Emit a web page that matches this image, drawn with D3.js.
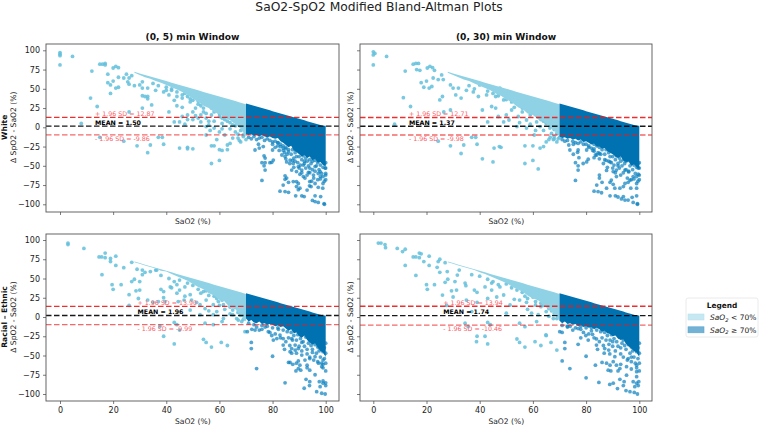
<!DOCTYPE html>
<html><head><meta charset="utf-8">
<script src="https://cdn.jsdelivr.net/npm/d3@7/dist/d3.min.js"></script>
<style>html,body{margin:0;padding:0;background:#fff}svg{display:block}text{font-family:"DejaVu Sans",sans-serif}</style>
</head><body><svg id="c" width="760" height="426"></svg>
<script>
const chartTitle="SaO2-SpO2 Modified Bland-Altman Plots";
const windows=["(0, 5) min Window","(0, 30) min Window"];
const rowLabels=["White","Racial – Ethnic"];
const xTicks=[0,20,40,60,80,100];
const yTicks=[-100,-75,-50,-25,0,25,50,75,100];

const stats=[
 {mean:1.50,up:12.87,lo:-9.86,labelX:13.2},
 {mean:1.37,up:12.71,lo:-9.98,labelX:13.4},
 {mean:1.96,up:13.90,lo:-9.99,labelX:29.2},
 {mean:1.74,up:13.94,lo:-10.46,labelX:26.3}];

const lightX=[28,30,32,34,36,38,40,42,44,46,48,50,52,54,56,58,60,62,64,66,68,70];
const lightTop=[72,70,68,66,64,62,60,58,56,54,52,50,48,46,44,42,40,38,36,34,32,30];
const lightLow1=[71,68,65,63,60,58,55,52,49,46,42,37,33,28,25,20,17,12,9,4,-2,-12];
const lightLow2=[71,68,65,62,60,57,54,51,48,44,41,36,33,27,24,18,16,10,8,2,-4,-12];
const lightLow3=[71,69,67,65,63,60,59,56,53,50,47,43,39,36,31,28,22,20,12,10,2,-6];
const lightLow4=[71,69,67,65,63,61,58,56,53,50,47,44,40,36,33,28,24,22,15,10,4,-5];

const darkX=[70,71,72,73,74,75,76,77,78,79,80,81,82,83,84,85,86,87,88,89,90,91,92,93,94,95,96,97,98,99,100];
const darkTop=[31,30,29,28,27,26,25,24,23,22,21,20,19,18,17,16,15,14,13,12,11,10,9,8,7,6,5,4,3,2,2];
const darkLow1=[-9,-10,-9,-11,-10,-12,-10,-12,-13,-12,-14,-15,-14,-18,-20,-23,-26,-24,-30,-32,-35,-38,-36,-40,-38,-43,-41,-46,-45,-49,-51];
const darkLow2=[-12,-14,-13,-15,-14,-16,-15,-17,-16,-19,-18,-20,-22,-21,-25,-25,-28,-27,-31,-33,-35,-38,-40,-38,-43,-45,-44,-50,-48,-52,-54];
const darkLow3=[-2,-6,-4,-7,-8,-6,-9,-8,-10,-9,-10,-12,-11,-13,-12,-15,-18,-16,-21,-20,-25,-27,-24,-30,-33,-36,-34,-40,-44,-46,-52];
const darkLow4=[-5,-8,-6,-9,-8,-10,-9,-12,-10,-13,-12,-14,-13,-16,-14,-16,-19,-18,-21,-22,-25,-24,-28,-30,-29,-35,-38,-41,-44,-46,-52];

const lightPts1=[[0,97],[0,95],[0,93],[0,81],[4.7,92],[11.5,38],[12,73],[14,27],[15,82],[16,82],[17,83],[17,81],[18,69],[21,79],[20,77],[22,77.5],[20,60],[18,58],[19,55],[19,44],[22,52],[21,51],[22,65],[24,64],[26,64],[25,69],[27,67],[25.5,59],[26,56],[28,54],[30,55],[31,59],[31,51],[33,51],[31,41],[32,40],[33,40],[33,37],[34.5,29],[31,25],[26,20],[41,20],[36,48],[39,46],[41,42],[43,35],[44,28],[46,26],[40,48],[42,48],[44,40],[46,42],[48,40],[49,33],[50,20],[51,25],[54,25],[53,16],[48,16],[46,14],[45,7],[43,7],[47,4],[50,10],[53,7],[55,12],[57,16],[56,3],[58,-1],[55,1],[60,14],[61,5],[63,18],[64,14],[65,3],[60,-6],[55,-10],[56.5,-4],[62,-10],[66,-6],[59,-16],[65,-14],[70,-16],[68,-19],[55,40],[58,31],[52,30],[8,5],[15,-13],[24,-18],[29,-24],[34,-23],[33,-33],[37,-13],[38.5,-13],[39,-22],[45,-27],[48,-26],[48,-28],[50,-28],[57,-24],[58,-24],[57,-47],[60,-43],[60,-29],[61,-30],[63,-23],[63,-29],[64,-21],[67,-14],[69,-12],[67.5,-17]];
const lightMore1=[[40,52],[42,50],[44,46],[46,38],[47,44],[49,37],[50,35],[52,34],[53,28],[54,20],[55,18],[57,25],[58,20],[59,24],[60,18],[61,12],[62,10],[63,8],[64,6],[65,10],[66,2],[67,6],[68,-4],[58,8],[56,8],[52,12],[64,-2],[61,-2],[48,10],[51,15],[35,57],[37,54],[69,-10],[67,-9]];
const lightPts2=[[0,98],[0.6,96],[0,94],[0,81],[5,92],[11.3,38.5],[12,73],[14,27],[15,82],[16,83],[17,83],[16.3,75],[17.5,74],[18,58],[20,60],[19,52],[22,53],[21,51],[20.3,77],[21.3,79],[22.3,77.5],[23,74],[22.5,64],[24.4,62],[25.7,68],[26.3,62],[25,35.5],[26,40],[29,55],[30,51],[31,42],[33,38],[26.5,20],[29,22.5],[32,51],[35,48],[37.6,46],[41,22.5],[44.5,27],[46,25],[42.6,42],[39.5,40],[46,40],[49,35.5],[47.6,51],[51,40],[54,31],[52,22.5],[56,20],[54.5,14],[57.6,9.5],[51,9.5],[49,7],[47,14],[43,7],[57.6,-1],[54,1],[61,18],[61.4,7],[65,14],[62.7,1],[66.4,-1],[8,4],[24.4,-18],[29,-24],[33,-34],[34,-23],[37,-13],[38.5,-13],[39,-22],[41,-41],[45,-45],[45.4,-27],[47.4,-25],[48,-26],[57,-24],[57,-47],[60,-43],[60,-24],[62,-54],[60.5,-10],[62.7,-27],[64,-25],[65,-19],[67.7,-16],[69,-19],[68,-12],[69.5,-15],[66.5,-13]];
const lightMore2=[[36,54],[38,50],[40,55],[43,47],[45,44],[47,41],[50,36],[52,33],[53,26],[55,28],[56,25],[58,22],[59,16],[60,20],[62,14],[63,10],[64,8],[65,5],[66,8],[67,2],[68,-3],[59,4],[55,6],[50,16],[64,-4],[61,-4],[67,-8],[69,-8],[68,-15],[70,-13],[66,-16]];
const lightPts3=[[3,96],[3,94],[9,89],[14.7,78],[15.7,78],[17,83],[17,77],[19,76],[19,72],[21,79],[21,67],[15.8,55],[19.6,42],[20,36],[23,42],[24,64],[27,71],[27,46],[28,49],[26,29],[26,15],[28.6,34],[30,35],[30,46],[29.5,24],[29,62],[31,55],[32,58],[31,61],[34,59],[36,61],[33,22],[35,19],[38,36],[39,33],[39,25],[37,20],[39.5,20],[36.4,61],[41.5,39],[42,38],[44,42],[45,35],[44,31],[47,39],[49,29],[47,27],[44.5,20],[46.7,22],[49.5,22],[51.4,19],[52.7,16],[49,9],[54,33],[55,22],[54.6,11],[57.7,16],[59,7],[61.5,16],[59.6,20],[52.7,3],[57.7,3],[61,-6],[57.7,-10],[54.6,-8],[61.5,-2],[65,3],[66.5,-2],[68.4,-6],[43,-7],[44,-10],[37.6,-12],[45,-17],[39,-25],[43,-35],[54,-29],[55,-33],[57,-39],[60.7,-33],[63,-37],[67.1,-4],[69.6,-19]];
const lightMore3=[[38,54],[41,50],[43,46],[45,48],[48,44],[50,41],[52,36],[53,31],[55,34],[56,28],[58,27],[59,24],[60,15],[61,22],[62,10],[63,20],[64,13],[65,9],[66,13],[67,6],[68,2],[69,-3],[64,4],[56,8]];
const lightPts4=[[1.9,96],[2.9,96],[4.4,94],[4.6,90],[9,89],[11,85],[12,88],[12,67],[15,78],[16,78],[17.3,77],[17.3,83],[18,82],[21,79],[19,72],[21,67],[16,54],[20,42],[20.3,36],[23,42],[24,64.5],[25,75],[24.4,72],[27,70.5],[25,58],[27.8,59],[28,49],[27,45],[26,28.5],[27.6,15],[29.4,34],[30,26],[31.3,35],[30.7,46],[31.6,54.5],[32.3,61],[34.5,44],[34.8,40.7],[35,22],[38,35],[39,32],[39,19],[37,7],[34.5,-8],[35.7,-12.5],[39,-25],[38.8,-32],[42,-25],[43,-7],[43,-35],[44,-10],[42,39],[44.5,44],[44.5,35],[47.6,39],[49,28.6],[46.4,26],[43,24],[51.4,15.6],[53,23],[55,22],[50,5],[59,32],[57.6,19],[61,15.6],[63,13.4],[65,7],[59.5,5],[61.4,-6],[55,-8],[57,-12.5],[54,-28.6],[55,-33],[57,-39],[60.8,-32],[63,-37],[65,-24],[66.8,-33],[69,-43],[67.7,-2],[64.9,-23.4]];
const lightMore4=[[37,55],[40,53],[43,49],[45,46],[47,42],[50,43],[52,38],[54,35],[56,32],[57,27],[58,24],[60,26],[61,20],[62,24],[63,18],[64,15],[65,18],[66,11],[67,8],[68,4],[69,-2],[62,3],[66,1],[58,10]];

const darkPts1=[[73.4,-29.5],[74.7,-22],[75,-27],[76.5,-25],[80,-29.5],[76.8,-37],[77.2,-40],[76,-46],[77.2,-46],[76.8,-50],[79,-46],[80.3,-42.5],[79.7,-45.5],[77.2,-55.5],[76,-69],[84.7,-63],[85.3,-66],[84.7,-67.5],[86,-71.5],[84,-75],[82.8,-83],[84.7,-83.5],[86,-84.5],[87.8,-70.5],[89,-70.5],[89.7,-73],[89,-77],[90.3,-79],[89.7,-81],[88.7,-89],[91,-89],[91.9,-90],[93,-81.5],[94,-70.5],[94.7,-70],[93.9,-76],[94.5,-77],[87.2,-55.5],[89,-57.5],[91,-55.5],[90.3,-61],[91.6,-64],[92.2,-66],[93.5,-58.5],[95.4,-62],[97.2,-60],[98,-64],[99.8,-53],[97.9,-57.5],[99,-73],[97.2,-78],[98.9,-79],[96,-89],[98.1,-90],[95,-95],[96,-96.5],[97.2,-97.5],[99.4,-99],[99.5,-100],[96,-73],[84.7,-38],[86.6,-42.5],[87.8,-47],[85.3,-45],[89.7,-51],[91.6,-49],[94,-53],[96,-51],[82,-20],[84,-27],[86,-32],[88,-40],[92,-44],[100,-60]];
const darkMore1=[[71,-13],[72,-15],[73,-12],[74,-16],[75,-14],[76,-13],[77,-17],[78,-15],[79,-17],[80,-19],[81,-18],[82,-24],[83,-25],[84,-30],[85,-28]];
const darkCloudTop=[[80,-22],[81,-26],[82,-20],[82.5,-30],[83,-22],[83.5,-36],[84,-24],[84.5,-33],[85,-41],[85,-26],[85.5,-35],[86,-29],[86.5,-47],[87,-35],[87.5,-43],[87.5,-29],[88,-52],[88.5,-44],[88.5,-33],[89,-38],[89.5,-46],[90,-53],[90,-38],[90.5,-49],[91,-42],[91,-59],[91.5,-37],[92,-47],[92.5,-53],[92.5,-40],[93,-44],[93,-62],[93.5,-50],[94,-42],[94,-59],[94.5,-47],[95,-55],[95,-44],[95.5,-66],[96,-57],[96,-43],[96.5,-50],[97,-68],[97,-46],[97.5,-55],[98,-49],[98,-67],[98.5,-60],[99,-52],[99,-64],[99.5,-47],[99.5,-70],[100,-53],[100,-62],[100,-46],[100,-68]];
const darkPts2=[[73.9,-29.5],[73.5,-23],[75.2,-22],[77,-21],[77,-29.5],[75.2,-35],[76.8,-32.5],[77.3,-39.5],[76,-46],[77,-50],[78.9,-47],[80.2,-45],[80.8,-41.5],[80.2,-29.5],[83,-39.5],[77,-55.5],[76,-69],[85,-62],[85,-66],[86,-71.5],[84,-75],[83,-83],[84.5,-83.5],[85.8,-85],[87.7,-79],[89,-71.5],[90.2,-74],[89.5,-68.5],[90.8,-79],[89,-89],[91,-89],[92,-90.5],[93.3,-93],[94,-90],[94.6,-94.5],[95.8,-94.5],[97.7,-97.5],[99.3,-99],[99.3,-100],[97.3,-91],[99,-89],[99,-79],[99,-73],[96.8,-79],[94,-77],[92.7,-79],[94.6,-73],[95.8,-71.5],[91.4,-64],[90.2,-57.5],[87.7,-56],[91.4,-55.5],[94.6,-55.5],[97.7,-64],[96.5,-68.5],[99.6,-61],[99.6,-53],[83,-28],[85,-34],[87,-42],[89,-45],[92,-50],[96,-58]];
const darkMore2=[[71,-16],[72,-18],[73,-17],[75,-18],[76,-20],[78,-19],[79,-22],[81,-24],[82,-27],[83,-31],[84,-36]];
const darkPts3=[[70.5,-19],[72.2,-16],[72,-33],[72,-41],[73.4,-17],[75,-17],[76,-16],[77.2,-13],[78.4,-19],[79.7,-24],[80.3,-30],[81.6,-28],[82.8,-23.5],[84,-28],[82.2,-16],[84,-36.5],[84.5,-42],[80,-51],[74,-67],[84.7,-85.5],[87.2,-28],[86.6,-45],[87.2,-41],[88.5,-36.5],[89,-47],[87.2,-47],[89.7,-57],[91,-49.5],[86,-59],[86.6,-59],[87.6,-61.5],[89,-60],[90.3,-62.5],[89.7,-67],[88.8,-70],[90.6,-69],[93,-62.5],[93,-66],[94,-69],[96,-75],[92.6,-81],[94,-84],[93.9,-89],[91.9,-92.5],[97.6,-84],[99,-83],[100,-85.5],[99,-86],[97.9,-90.5],[100,-89],[96.6,-97],[98.5,-99],[99.8,-100],[96,-51.5],[98.5,-64.5],[99,-61.5],[97.3,-60],[94,-54],[92.2,-56],[89.7,-41],[91,-33],[93,-42],[95,-46],[99,-56]];
const darkMore3=[[71,-8],[73,-10],[74,-13],[76,-11]];
const darkCloudBottom=[[78,-12],[79,-20],[80,-14],[81,-22],[82,-14],[83,-27],[84,-17],[85,-32],[85.5,-19],[86,-27],[86.5,-37],[87,-20],[87.5,-30],[88,-24],[88.5,-43],[89,-30],[89.5,-23],[90,-38],[90.5,-28],[91,-44],[91.5,-32],[92,-38],[92.5,-26],[93,-48],[93.5,-34],[94,-30],[94,-52],[94.5,-37],[95,-42],[95.5,-56],[96,-36],[96.5,-47],[97,-39],[97,-58],[97.5,-44],[98,-52],[98,-36],[98.5,-60],[99,-45],[99,-66],[99.5,-40],[99.5,-54],[100,-47],[100,-70],[100,-60],[100,-34]];
const darkPts4=[[70.1,-19],[71,-20],[72,-33],[72,-41],[71,-57],[73.9,-67],[80,-79],[84.8,-85],[77,-35.5],[78,-27],[79.9,-24],[80.8,-30],[82.4,-22.5],[83.9,-28.5],[83.9,-36.5],[84.3,-42],[80,-51],[83.5,-62.5],[87,-41],[88.6,-35.5],[86.8,-47],[88.9,-48],[86,-59],[87.7,-60],[89,-62.5],[90.2,-58],[90.8,-51.5],[88.3,-69],[89.3,-70],[91.4,-62.5],[93,-61.5],[92.7,-67],[95.2,-64.5],[92,-70],[95.2,-75.5],[92.7,-81],[94.3,-84],[94,-89],[88.9,-87.5],[90.2,-86],[91.8,-93],[95,-95.5],[96.5,-97],[98.1,-98],[99.3,-100],[99,-71],[99,-77.5],[97.7,-84],[99.8,-84],[99,-86],[98.3,-90.5],[99.6,-89],[97,-67.5],[99,-62.5],[95.8,-54],[75,-17],[73,-12],[78,-16],[82,-18],[90,-32],[93,-40],[97,-52]];
const darkMore4=[[71,-11],[73,-13],[74,-12],[76,-14],[77,-15]];

const panelData=[
 {lightLow:lightLow1,darkLow:darkLow1,lightPts:lightPts1.concat(lightMore1),darkPts:darkPts1.concat(darkMore1,darkCloudTop)},
 {lightLow:lightLow2,darkLow:darkLow2,lightPts:lightPts2.concat(lightMore2),darkPts:darkPts2.concat(darkMore2,darkCloudTop)},
 {lightLow:lightLow3,darkLow:darkLow3,lightPts:lightPts3.concat(lightMore3),darkPts:darkPts3.concat(darkMore3,darkCloudBottom)},
 {lightLow:lightLow4,darkLow:darkLow4,lightPts:lightPts4.concat(lightMore4),darkPts:darkPts4.concat(darkMore4,darkCloudBottom)}];

const cLight="#8fd2e5",cLightPt="#62bfdc",cDark="#0072b2",cDarkPt="#0a80bf",ink="#222";
const svg=d3.select("#c");
const boxes=[[46,339,44,212],[360,652,44,212],[46,339,234,401],[360,652,234,401]];

svg.append("text").attr("x",379).attr("y",11).attr("text-anchor","middle").attr("font-size",12.3).attr("fill",ink).text(chartTitle);

boxes.forEach((b,i)=>{
 const [L,R,T,B]=b, d=panelData[i], s=stats[i], col=i%2, row=i>>1;
 const x=d3.scaleLinear().domain([0,100]).range(col?[373.3,639.3]:[60,325.7]);
 const y=d3.scaleLinear().domain([-100,100]).range(row?[394,240]:[204.3,50.3]);
 const g=svg.append("g");
 const fillBand=(xs,top,low,c)=>g.append("path").attr("fill",c)
   .attr("d",d3.area().x(k=>x(xs[k])).y0(k=>y(low[k])).y1(k=>y(top[k]))(d3.range(xs.length)));
 g.selectAll(".lp").data(d.lightPts).join("circle").attr("cx",p=>x(p[0])).attr("cy",p=>y(p[1])).attr("r",1.9).attr("fill",cLightPt).attr("opacity",.85);
 fillBand(lightX,lightTop,d.lightLow,cLight);
 g.selectAll(".dp").data(d.darkPts).join("circle").attr("cx",p=>x(p[0])).attr("cy",p=>y(p[1])).attr("r",1.9).attr("fill",cDarkPt).attr("opacity",.7);
 fillBand(darkX,darkTop,d.darkLow,cDark);

 const hl=(v,c,w,op)=>g.append("line").attr("x1",L).attr("x2",R).attr("y1",y(v)).attr("y2",y(v))
   .attr("stroke",c).attr("stroke-width",w).attr("stroke-dasharray","5.5,2.5").attr("opacity",op);
 hl(s.up,"#f01818",1.3,.9); hl(s.lo,"#f01818",1.3,.65); hl(s.mean,"#000",1.3,.9);
 const lab=(v,t,c,w)=>g.append("text").attr("x",x(s.labelX)).attr("y",y(v)).attr("dy","0.35em").attr("font-size",6.3).attr("fill",c).attr("font-weight",w).text(t);
 lab(18,`+ 1.96 SD = ${s.up.toFixed(2)}`,"#f8626a","normal");
 lab(6.5,`MEAN = ${s.mean.toFixed(2)}`,"#000","bold");
 lab(-15,`- 1.96 SD = ${s.lo.toFixed(2)}`,"#f8626a","normal");

 g.append("rect").attr("x",L).attr("y",T).attr("width",R-L).attr("height",B-T).attr("fill","none").attr("stroke","#555").attr("stroke-width",.9);
 const ax=svg.append("g").attr("transform",`translate(0,${B})`)
   .call(d3.axisBottom(x).tickValues(xTicks).tickSize(3).tickPadding(3).tickFormat(row?d3.format("d"):""));
 const ay=svg.append("g").attr("transform",`translate(${L},0)`)
   .call(d3.axisLeft(y).tickValues(yTicks).tickSize(3).tickPadding(3).tickFormat(col?"":(v=>v<0?"−"+(-v):""+v)));
 [ax,ay].forEach(a=>{a.select(".domain").remove();a.selectAll("line").attr("stroke","#444").attr("stroke-width",.7);
   a.selectAll("text").attr("font-size",8).attr("fill",ink).attr("font-family",'"DejaVu Sans"');});

 svg.append("text").attr("x",(x(0)+x(100))/2).attr("y",row?424:224).attr("text-anchor","middle").attr("font-size",7.6).attr("fill",ink).text("SaO2 (%)");
 if(!row) svg.append("text").attr("x",(L+R)/2).attr("y",39.5).attr("text-anchor","middle").attr("font-size",9.1).attr("font-weight","bold").attr("fill","#111").text(windows[col]);
 const cy=(y(100)+y(-100))/2;
 svg.append("text").attr("transform",`translate(${col?353:16},${cy}) rotate(-90)`).attr("text-anchor","middle").attr("font-size",7.6).attr("fill",ink).text("Δ SpO2 - SaO2 (%)");
 if(!col) svg.append("text").attr("transform",`translate(7,${cy}) rotate(-90)`).attr("text-anchor","middle").attr("font-size",7.6).attr("font-weight","bold").attr("fill","#111").text(rowLabels[row]);
});

// legend
const lg=svg.append("g");
lg.append("rect").attr("x",686).attr("y",298).attr("width",72).attr("height",39).attr("rx",2).attr("fill","#fff").attr("stroke","#e4e4e4").attr("stroke-width",.8);
lg.append("text").attr("x",722).attr("y",308).attr("text-anchor","middle").attr("font-size",7.4).attr("font-weight","bold").attr("fill","#111").text("Legend");
[["<",cLight,.5,"#b8e2ee"],["≥",cDark,.55,"#5aa6d0"]].forEach((e,i)=>{
 const yy=314+i*12.8;
 lg.append("rect").attr("x",688).attr("y",yy).attr("width",16).attr("height",6).attr("fill",e[1]).attr("fill-opacity",e[2]).attr("stroke",e[3]).attr("stroke-width",.6);
 const t=lg.append("text").attr("x",710).attr("y",yy+6).attr("font-size",7.5).attr("fill",ink);
 t.append("tspan").attr("font-style","italic").text("SaO");
 t.append("tspan").attr("font-size",5.2).attr("dy",1.5).attr("font-style","italic").text("2");
 t.append("tspan").attr("dy",-1.5).text(` ${e[0]} 70%`);
});
</script></body></html>
